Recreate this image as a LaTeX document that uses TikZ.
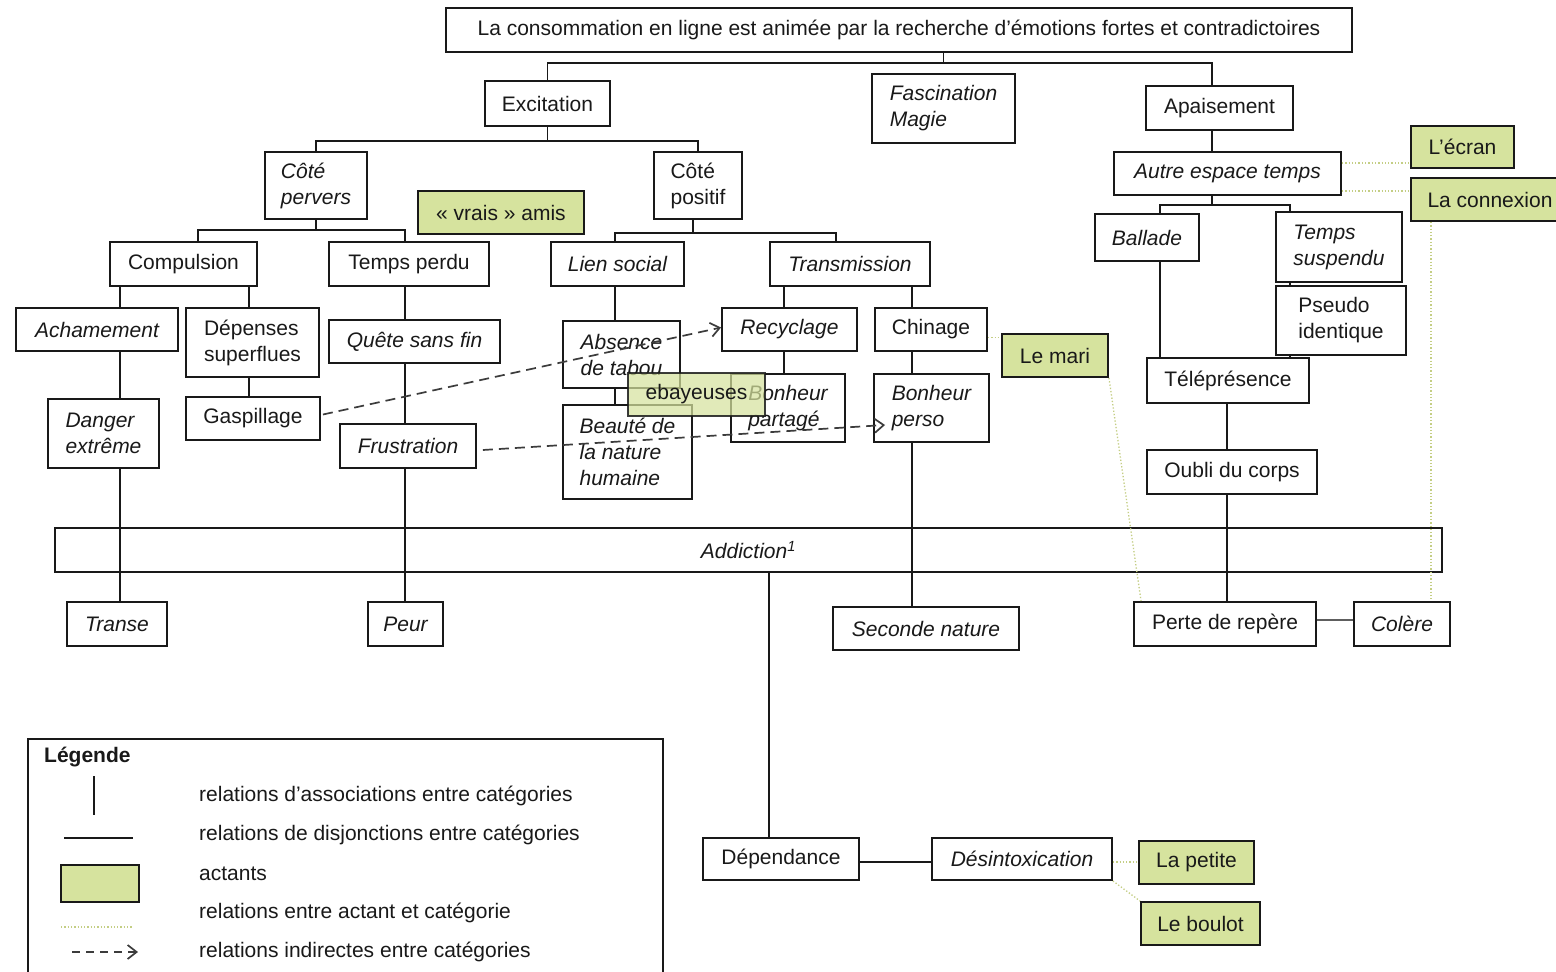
\documentclass[tikz,border=0pt]{standalone}
\usepackage{fontspec}
\setmainfont{Liberation Sans}
\usetikzlibrary{arrows.meta,calc}
\definecolor{actfill}{RGB}{214,227,158}
\definecolor{actline}{RGB}{196,206,132}
\definecolor{ink}{RGB}{25,25,25}
\newcommand\catbox[7]{\node[#1,minimum width={#5-#3},minimum height={#6-#4}] (#2) at ({(#3+#5)/2},{(#4+#6)/2}) {#7};}
\tikzset{
 boxbase/.style={draw=ink, line width=1.9pt, inner sep=0pt, align=left, text=ink, font=\fontsize{21}{26}\selectfont},
 cbox/.style={boxbase, fill=white},
 ibox/.style={boxbase, fill=white, font=\fontsize{21}{26}\selectfont\itshape},
 addbox/.style={boxbase, font=\fontsize{21}{26}\selectfont\itshape},
 abox/.style={boxbase, fill=actfill},
 ebox/.style={boxbase, fill=actfill, fill opacity=0.72, draw opacity=0.85, text opacity=1},
 conn/.style={draw=ink, line width=1.9pt},
 aline/.style={draw=actline, line width=1.3pt, dotted},
 ind/.style={draw=ink!85, line width=1.7pt, dash pattern=on 10pt off 6pt, -{Straight Barb[length=9pt,width=14pt]}},
 legtext/.style={anchor=west, text=ink, inner sep=0pt, font=\fontsize{21}{26}\selectfont},
}
\begin{document}
\begin{tikzpicture}[x=1pt,y=-1pt]
\useasboundingbox (0,0) rectangle (1556,972);
\clip (0,0) rectangle (1556,972);
\fill[white] (0,0) rectangle (1556,972);

% ---- boxes ----
\catbox{cbox}{title}{446}{8}{1352}{52}{La consommation en ligne est animée par la recherche d’émotions fortes et contradictoires}
\catbox{cbox}{exc}{485}{81}{610}{126}{Excitation}
\catbox{ibox}{fasc}{872}{74}{1015}{143}{Fascination\\Magie}
\catbox{cbox}{apa}{1146}{86}{1293}{130}{Apaisement}
\catbox{ibox}{cpv}{265}{152}{367}{219}{Côté\\pervers}
\catbox{cbox}{cpo}{654}{152}{742}{219}{Côté\\positif}
\catbox{abox}{vrais}{418}{191}{584}{234}{« vrais » amis}
\catbox{ibox}{aet}{1114}{152}{1341}{195}{Autre espace temps}
\catbox{abox}{ecran}{1411}{126}{1514}{168}{L’écran}
\catbox{abox}{cnx}{1411}{178}{1569}{221}{La connexion}
\catbox{cbox}{comp}{110}{242}{257}{286}{Compulsion}
\catbox{cbox}{tps}{329}{242}{489}{286}{Temps perdu}
\catbox{ibox}{lien}{551}{242}{684}{286}{Lien social}
\catbox{ibox}{trans}{770}{242}{930}{286}{Transmission}
\catbox{ibox}{ball}{1095}{214}{1199}{261}{Ballade}
\catbox{ibox}{tsus}{1276}{212}{1402}{282}{Temps\\suspendu}
\catbox{cbox}{pseudo}{1276}{286}{1406}{355}{Pseudo\\identique}
\catbox{ibox}{acha}{16}{308}{178}{351}{Achamement}
\catbox{cbox}{dep}{186}{308}{319}{377}{Dépenses\\superflues}
\catbox{ibox}{quete}{329}{320}{500}{363}{Quête sans fin}
\catbox{ibox}{abs}{563}{321}{680}{388}{Absence\\de tabou}
\catbox{ibox}{recy}{722}{308}{857}{351}{Recyclage}
\catbox{cbox}{chin}{875}{308}{987}{351}{Chinage}
\catbox{abox}{mari}{1002}{334}{1108}{377}{Le mari}
\catbox{cbox}{tele}{1147}{358}{1309}{403}{Téléprésence}
\catbox{ibox}{dang}{48}{399}{159}{468}{Danger\\extrême}
\catbox{cbox}{gasp}{186}{397}{320}{440}{Gaspillage}
\catbox{ibox}{frus}{340}{424}{476}{468}{Frustration}
\catbox{ibox}{beau}{563}{405}{692}{499}{Beauté de\\la nature\\humaine}
\catbox{ibox}{bpart}{731}{374}{845}{442}{Bonheur\\partagé}
\catbox{ibox}{bpers}{874}{374}{989}{442}{Bonheur\\perso}
\catbox{cbox}{oubli}{1147}{450}{1317}{494}{Oubli du corps}
\catbox{addbox}{addi}{55}{528}{1442}{572}{Addiction\textsuperscript{1}}
\catbox{ibox}{transe}{67}{602}{167}{646}{Transe}
\catbox{ibox}{peur}{368}{602}{443}{646}{Peur}
\catbox{ibox}{sec}{833}{607}{1019}{650}{Seconde nature}
\catbox{cbox}{perte}{1134}{602}{1316}{646}{Perte de repère}
\catbox{ibox}{colere}{1354}{602}{1450}{646}{Colère}
\catbox{cbox}{depd}{703}{838}{859}{880}{Dépendance}
\catbox{ibox}{desin}{932}{838}{1112}{880}{Désintoxication}
\catbox{abox}{petite}{1139}{841}{1254}{884}{La petite}
\catbox{abox}{boulot}{1141}{902}{1260}{945}{Le boulot}

% ---- tree connectors ----
\draw[conn] (title.south -| fasc.north) -- ++(0,10) coordinate (b0);
\draw[conn] (exc.north) |- (b0) -| ([xshift=-7.5pt]apa.north);
\draw[conn] (exc.south) -- ++(0,14) coordinate (b1);
\draw[conn] (cpv.north) |- (b1) -| (cpo.north);
\draw[conn] (cpv.south) -- ++(0,10) coordinate (bA);
\draw[conn] ([xshift=14.5pt]comp.north) |- (bA) -| ([xshift=-4pt]tps.north);
\draw[conn] ([xshift=-5pt]cpo.south) -- ++(0,13) coordinate (bB);
\draw[conn] ([xshift=-2.5pt]lien.north) |- (bB) -| ([xshift=-14pt]trans.north);
\draw[conn] ([xshift=-63.5pt]comp.south) -- ([xshift=-63.5pt]comp.south |- acha.north);
\draw[conn] ([xshift=65.5pt]comp.south) -- ([xshift=65.5pt]comp.south |- dep.north);
\draw[conn] ([xshift=23pt]acha.south) -- ([xshift=23pt]acha.south |- dang.north);
\draw[conn] ([xshift=16.5pt]dang.south) -- ([xshift=16.5pt]dang.south |- transe.north);
\draw[conn] ([xshift=-3.5pt]dep.south) -- ([xshift=-3.5pt]dep.south |- gasp.north);
\draw[conn] ([xshift=-4pt]tps.south) -- ([xshift=-4pt]tps.south |- quete.north);
\draw[conn] ([xshift=-9.5pt]quete.south) -- ([xshift=-9.5pt]quete.south |- frus.north);
\draw[conn] ([xshift=-3pt]frus.south) -- ([xshift=-3pt]frus.south |- peur.north);
\draw[conn] ([xshift=-2.5pt]lien.south) -- ([xshift=-2.5pt]lien.south |- abs.north);
\draw[conn] ([xshift=-6.5pt]abs.south) -- ([xshift=-6.5pt]abs.south |- beau.north);
\draw[conn] ([xshift=-66pt]trans.south) -- ([xshift=-66pt]trans.south |- recy.north);
\draw[conn] ([xshift=62pt]trans.south) -- ([xshift=62pt]trans.south |- chin.north);
\draw[conn] ([xshift=-5.5pt]recy.south) -- ([xshift=-5.5pt]recy.south |- bpart.north);
\draw[conn] ([xshift=-19pt]chin.south) -- ([xshift=-19pt]chin.south |- bpers.north);
\draw[conn] ([xshift=-19.5pt]bpers.south) -- ([xshift=-19.5pt]bpers.south |- sec.north);
\draw[conn] ([xshift=-7.5pt]apa.south) -- ([xshift=-7.5pt]apa.south |- aet.north);
\draw[conn] ([xshift=-15.5pt]aet.south) -- ++(0,9) coordinate (bC);
\draw[conn] ([xshift=13pt]ball.north) |- (bC) -| ([xshift=-49pt]tsus.north);
\draw[conn] ([xshift=13pt]ball.south) -- ([xshift=13pt]ball.south |- tele.north);
\draw[conn] ([xshift=-49pt]tsus.south) -- ([xshift=-49pt]tsus.south |- pseudo.north);
\draw[conn] ([xshift=-51pt]pseudo.south) -- ([xshift=-51pt]pseudo.south |- tele.north);
\draw[conn] ([xshift=-1pt]tele.south) -- ([xshift=-1pt]tele.south |- oubli.north);
\draw[conn] ([xshift=-5pt]oubli.south) -- ([xshift=-5pt]oubli.south |- perte.north);
\draw[draw=ink!70, line width=2.6pt] ([yshift=4pt]perte.east) -- ([yshift=4pt]perte.east -| colere.west);
\draw[conn] ([xshift=-12pt]depd.north) -- ([xshift=-12pt]depd.north |- addi.south);
\draw[conn] ([yshift=-3pt]depd.east) -- ([yshift=-3pt]depd.east -| desin.west);

% ---- actant relations ----
\draw[aline] ([yshift=10.5pt]aet.east) -- ([yshift=10.5pt]aet.east -| ecran.west);
\draw[aline] ([yshift=-17.5pt]aet.east) -- ([yshift=-17.5pt]aet.east -| cnx.west);
\draw[aline] ([xshift=-59pt]cnx.south) -- ([xshift=-59pt]cnx.south |- colere.north);
\draw[aline] (mari.south east) -- ([xshift=8pt]perte.north west);
\draw[aline] ([yshift=-8pt]chin.east) -- ([yshift=-8pt]chin.east -| mari.west);
\draw[aline] ([yshift=-3pt]desin.east) -- ([yshift=-3pt]desin.east -| petite.west);
\draw[aline] (desin.south east) -- (boulot.north west);

% ---- indirect relations ----
\draw[ind] ([xshift=2pt,yshift=4pt]gasp.east) -- ([yshift=2pt]recy.west);
\draw[ind] ([xshift=6pt,yshift=-4pt]frus.east) -- ([xshift=12pt,yshift=-17pt]bpers.west);

% ---- overlapping actant ----
\catbox{ebox}{ebay}{628}{373}{765}{416}{ebayeuses}

% ---- legend ----
\node[draw=ink, line width=1.9pt, minimum width=635, minimum height=260, anchor=north west, inner sep=0pt] (legbox) at (27,738) {};
\node[legtext, font=\fontsize{21}{26}\selectfont\bfseries] (legtitle) at (44,757) {Légende};
\draw[conn] (94,776) -- (94,815);
\draw[conn] (64,838) -- (133,838);
\node[abox, minimum width=78, minimum height=37] (legact) at (100,883.5) {};
\draw[aline] (61,927) -- (133,927);
\draw[draw=ink!85, line width=1.7pt, dash pattern=on 8pt off 6pt, -{Straight Barb[length=9pt,width=14pt]}] (72,952) -- (138,952);
\node[legtext] (l1) at (199,796) {relations d'associations entre catégories};
\node[legtext] (l2) at (199,835) {relations de disjonctions entre catégories};
\node[legtext] (l3) at (199,874) {actants};
\node[legtext] (l4) at (199,913) {relations entre actant et catégorie};
\node[legtext] (l5) at (199,952) {relations indirectes entre catégories};
\end{tikzpicture}
\end{document}
